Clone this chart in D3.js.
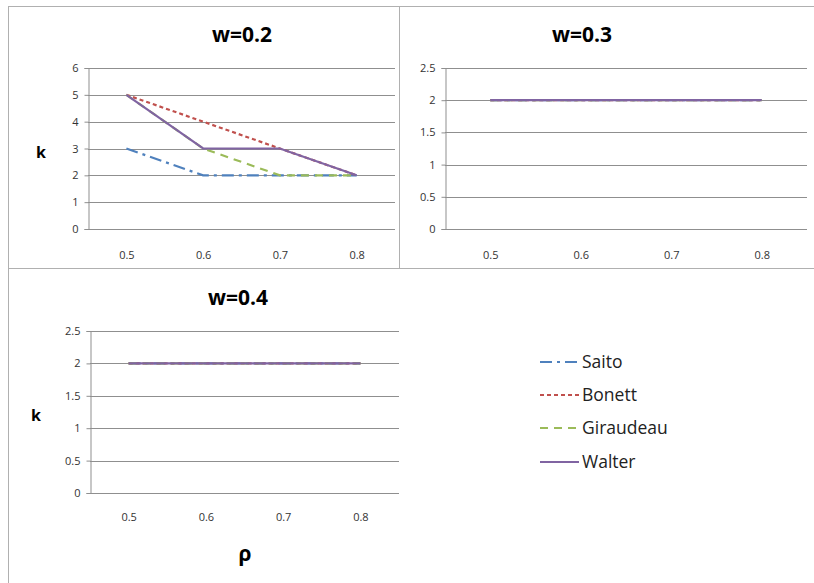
<!DOCTYPE html>
<html><head><meta charset="utf-8">
<script src="https://cdn.jsdelivr.net/npm/d3@7"></script>
<style>body{margin:0;background:#fff}svg{display:block}</style>
</head><body>
<svg id="c" width="814" height="583"></svg>
<script>
const categories = ["0.5","0.6","0.7","0.8"];
const seriesNames = ["Saito","Bonett","Giraudeau","Walter"];
const seriesColors = ["#4F81BD","#C0504D","#9BBB59","#8064A2"];
const seriesDash = ["12,5,3,5","4,3","8,6",null];
const w02Saito = [3,2,2,2];
const w02Bonett = [5,4,3,2];
const w02Giraudeau = [5,3,2,2];
const w02Walter = [5,3,3,2];
const w03Saito = [2,2,2,2];
const w03Bonett = [2,2,2,2];
const w03Giraudeau = [2,2,2,2];
const w03Walter = [2,2,2,2];
const w04Saito = [2,2,2,2];
const w04Bonett = [2,2,2,2];
const w04Giraudeau = [2,2,2,2];
const w04Walter = [2,2,2,2];
const ticks02 = [0,1,2,3,4,5,6];
const ticks03 = [0,0.5,1,1.5,2,2.5];
const ticks04 = [0,0.5,1,1.5,2,2.5];

const svg = d3.select("#c");
const font = "'Open Sans', 'Liberation Sans', sans-serif";

// panel borders
const bc = "#b0b0b0";
svg.append("line").attr("x1",8).attr("x2",814).attr("y1",6.5).attr("y2",6.5).attr("stroke",bc);
svg.append("line").attr("x1",8).attr("x2",814).attr("y1",268.5).attr("y2",268.5).attr("stroke",bc);
svg.append("line").attr("x1",8.5).attr("x2",8.5).attr("y1",6).attr("y2",583).attr("stroke",bc);
svg.append("line").attr("x1",399.5).attr("x2",399.5).attr("y1",6).attr("y2",268).attr("stroke",bc);

function panel(opts){
  const {left,right,top,bottom,ticks,max,title,titleX,titleY,data,klabel,rho,xlabY} = opts;
  const x = d3.scalePoint().domain(categories).range([left,right]).padding(0.5);
  const y = d3.scaleLinear().domain([0,max]).range([bottom,top]);
  const g = svg.append("g");
  // gridlines
  g.selectAll(".grid").data(ticks).join("line")
    .attr("x1",left).attr("x2",right)
    .attr("y1",d=>Math.round(y(d))+0.5).attr("y2",d=>Math.round(y(d))+0.5)
    .attr("stroke","#8f8f8f").attr("stroke-width",1);
  // y axis
  const ya = d3.axisLeft(y).tickValues(ticks).tickSize(4).tickPadding(6).tickFormat(d3.format("~g"));
  const ag = g.append("g").attr("transform",`translate(${Math.round(left)+0.5},0)`).call(ya);
  ag.select(".domain").attr("stroke","#8f8f8f");
  ag.selectAll(".tick line").attr("stroke","#8f8f8f");
  ag.selectAll("text").attr("font-family",font).attr("font-size",11).attr("fill","#333");
  // x labels
  const xa = d3.axisBottom(x).tickSize(0).tickPadding(0);
  const xg = g.append("g").attr("transform",`translate(0,${xlabY})`).call(xa);
  xg.select(".domain").remove();
  xg.selectAll("text").attr("font-family",font).attr("font-size",11).attr("fill","#333").attr("dy","0.32em");
  // lines
  const line = d3.line().x((d,i)=>x(categories[i])).y(d=>y(d));
  data.forEach((vals,si)=>{
    g.append("path").datum(vals).attr("d",line).attr("fill","none")
      .attr("stroke",seriesColors[si]).attr("stroke-width",2.2)
      .attr("stroke-dasharray",seriesDash[si]);
  });
  g.append("text").attr("x",titleX).attr("y",titleY).attr("text-anchor","middle").attr("dy","0.35em")
    .attr("font-family",font).attr("font-weight","bold").attr("font-size",21).text(title);
  if(klabel) g.append("text").attr("x",klabel[0]).attr("y",klabel[1]).attr("text-anchor","middle").attr("dy","0.35em")
    .attr("font-family",font).attr("font-weight","bold").attr("font-size",16).text("k");
  if(rho) g.append("text").attr("x",rho[0]).attr("y",rho[1]).attr("text-anchor","middle").attr("dy","0.35em")
    .attr("font-family",font).attr("font-weight","bold").attr("font-size",21).text("ρ");
}

panel({left:88,right:395,top:68,bottom:229,ticks:ticks02,max:6,title:"w=0.2",titleX:242,titleY:35,
  data:[w02Saito,w02Bonett,w02Giraudeau,w02Walter],klabel:[41,152],xlabY:255});
panel({left:445,right:807,top:68,bottom:229,ticks:ticks03,max:2.5,title:"w=0.3",titleX:582,titleY:35,
  data:[w03Saito,w03Bonett,w03Giraudeau,w03Walter],xlabY:255});
panel({left:90,right:399,top:331,bottom:493,ticks:ticks04,max:2.5,title:"w=0.4",titleX:238,titleY:298,
  data:[w04Saito,w04Bonett,w04Giraudeau,w04Walter],klabel:[36,415],rho:[245,554],xlabY:517});

// legend
const leg = svg.append("g");
const legY = [362,395,428,462];
seriesNames.forEach((n,i)=>{
  leg.append("line").attr("x1",540).attr("x2",579).attr("y1",legY[i]).attr("y2",legY[i])
    .attr("stroke",seriesColors[i]).attr("stroke-width",2)
    .attr("stroke-dasharray",seriesDash[i]);
  leg.append("text").attr("x",582).attr("y",legY[i]).attr("dy","0.35em")
    .attr("font-family",font).attr("font-size",17.5).attr("fill","#222").text(n);
});
</script>
</body></html>
